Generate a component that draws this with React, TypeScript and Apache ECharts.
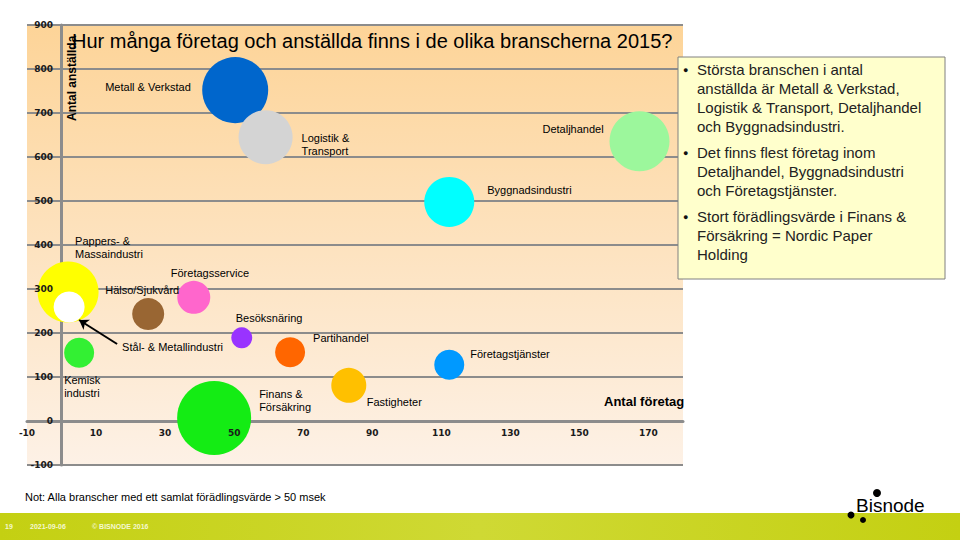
import React, { useEffect, useRef } from "react";
import * as echarts from "echarts";

// Data
const branscher = [
  "Metall & Verkstad",
  "Logistik &\nTransport",
  "Detaljhandel",
  "Byggnadsindustri",
  "Pappers- &\nMassaindustri",
  "Stål- & Metallindustri",
  "Hälso/Sjukvård",
  "Företagsservice",
  "Besöksnäring",
  "Partihandel",
  "Kemisk\nindustri",
  "Finans &\nFörsäkring",
  "Fastigheter",
  "Företagstjänster",
];
const antalForetag = [50.3, 59.1, 167.4, 112.3, 1.9, 2.2, 25.1, 38.3, 52.2, 66.2, 5.1, 44.2, 83.2, 112.3];
const antalAnstallda = [752, 645, 636, 498, 293, 259, 243, 281, 189, 156, 155, 7, 81, 128];
const foradlingsvarde = [10900, 7300, 9000, 6250, 9300, 2400, 2560, 2720, 1100, 2250, 2250, 13700, 3060, 2250];
const arrowFrom = [16.1, 175];
const arrowTo = [5.1, 229.5];

const xTicksMin = -10;
const xTicksMax = 180;
const yTicksMin = -100;
const yTicksMax = 900;

const bullets = [
  "Största branschen i antal\nanställda är Metall & Verkstad,\nLogistik & Transport, Detaljhandel\noch Byggnadsindustri.",
  "Det finns flest företag inom\nDetaljhandel, Byggnadsindustri\noch Företagstjänster.",
  "Stort förädlingsvärde i Finans &\nFörsäkring = Nordic Paper\nHolding",
];

// Styles
const colors = [
  "#0066cc", "#d4d4d4", "#9cf79c", "#00ffff", "#ffff00", "#ffffff", "#996633",
  "#ff66cc", "#9933ff", "#ff6600", "#33f033", "#14ec14", "#ffc000", "#0099ff",
];
const labelOffsets = [
  [-130, -10], [36, -6], [-97, -19], [38, -18], [7, -58], [53, 33], [-43, -31],
  [-23, -31], [-6, -26], [23, -21], [-15, 21], [45, -30], [18, 10], [21, -17],
];
const bulletTops = [60, 143, 207];

export default function App() {
  const ref = useRef<HTMLDivElement>(null);
  useEffect(() => {
    if (!ref.current) return;
    const chart = echarts.init(ref.current, null, { renderer: "svg" });
    const grey = "#8c8c8c";
    const font = '"Liberation Sans", Arial, sans-serif';
    const tickFont = '"DejaVu Sans", sans-serif';
    const graphic: any[] = [
      {
        type: "text",
        x: 66,
        y: 121,
        rotation: Math.PI / 2,
        z: 100,
        style: { text: "Antal anställda", fontSize: 12, fontWeight: "bold", fontFamily: font, fill: "#000", align: "left", verticalAlign: "top" },
      },
      {
        type: "text",
        x: 72,
        y: 31,
        z: 101,
        style: { text: "Hur många företag och anställda finns i de olika branscherna 2015?", fontSize: 20, fontFamily: font, fill: "#000", align: "left", verticalAlign: "top" },
      },
      {
        type: "text",
        x: 604,
        y: 395,
        z: 100,
        style: { text: "Antal företag", fontSize: 13, fontWeight: "bold", fontFamily: font, fill: "#000", align: "left", verticalAlign: "top" },
      },
      {
        type: "rect",
        shape: { x: 678, y: 57, width: 267, height: 222 },
        z: 100,
        style: { fill: "#ffffcc", stroke: "#808080", lineWidth: 1 },
      },
      {
        type: "text",
        x: 25,
        y: 491,
        z: 100,
        style: { text: "Not: Alla branscher med ett samlat förädlingsvärde > 50 msek", fontSize: 11, fontFamily: font, fill: "#000", align: "left", verticalAlign: "top" },
      },
      {
        type: "rect",
        shape: { x: 0, y: 513, width: 960, height: 27 },
        z: 90,
        style: {
          fill: new echarts.graphic.LinearGradient(0, 0, 1, 0, [
            { offset: 0, color: "#c4d012" },
            { offset: 0.5, color: "#cfd934" },
            { offset: 1, color: "#c4d012" },
          ]),
        },
      },
      { type: "text", x: 5, y: 523, z: 100, style: { text: "19", fontSize: 7, fontWeight: "bold", fontFamily: font, fill: "#f4f8d0" } },
      { type: "text", x: 30, y: 523, z: 100, style: { text: "2021-09-06", fontSize: 7, fontWeight: "bold", fontFamily: font, fill: "#f4f8d0" } },
      { type: "text", x: 92, y: 523, z: 100, style: { text: "© BISNODE 2016", fontSize: 7, fontWeight: "bold", fontFamily: font, fill: "#f4f8d0" } },
      { type: "text", x: 856, y: 496, z: 100, style: { text: "Bisnode", fontSize: 19, fontFamily: font, fill: "#000" } },
      { type: "circle", shape: { cx: 877, cy: 493, r: 4 }, z: 100, style: { fill: "#000" } },
      { type: "circle", shape: { cx: 851, cy: 515, r: 3.5 }, z: 100, style: { fill: "#000" } },
      { type: "circle", shape: { cx: 863, cy: 520, r: 3 }, z: 100, style: { fill: "#000" } },
    ];
    bullets.forEach((b, i) => {
      graphic.push({
        type: "text",
        x: 683,
        y: bulletTops[i] + 5,
        z: 101,
        style: { text: "●", fontSize: 9, fontFamily: font, fill: "#111", align: "left", verticalAlign: "top" },
      });
      graphic.push({
        type: "text",
        x: 697,
        y: bulletTops[i],
        z: 101,
        style: { text: b, fontSize: 15, lineHeight: 19, fontFamily: font, fill: "#222", align: "left", verticalAlign: "top" },
      });
    });

    const xBase = { type: "value", min: xTicksMin, max: xTicksMax, interval: 20, splitLine: { show: false } };
    const yBase = { type: "value", min: yTicksMin, max: yTicksMax, interval: 100 };

    const option: any = {
      animation: false,
      backgroundColor: "#ffffff",
      grid: {
        left: 27,
        top: 25,
        width: 656,
        height: 440,
        show: true,
        borderWidth: 0,
        outerBoundsMode: "none",
        containLabel: false,
        backgroundColor: new echarts.graphic.LinearGradient(0, 0, 0, 1, [
          { offset: 0, color: "#fdd498" },
          { offset: 1, color: "#fdf1e6" },
        ]),
      },
      xAxis: [
        {
          ...xBase,
          z: 10,
          axisLine: { show: false, onZero: true },
          axisTick: { show: false },
          axisLabel: { fontSize: 9, fontWeight: "bold", fontFamily: tickFont, color: "#1a1a1a", margin: -37, showMaxLabel: false, hideOverlap: false },
        },
        {
          ...xBase,
          z: 0,
          axisLine: { show: true, onZero: true, lineStyle: { color: grey, width: 3 } },
          axisTick: { show: false },
          minorTick: { show: false },
          axisLabel: { show: false },
        },
      ],
      yAxis: [
        {
          ...yBase,
          z: 10,
          axisLine: { show: false, onZero: true },
          axisTick: { show: false },
          axisLabel: { fontSize: 9, fontWeight: "bold", fontFamily: tickFont, color: "#1a1a1a", margin: -26, hideOverlap: false },
          splitLine: { show: false },
        },
        {
          ...yBase,
          z: 0,
          position: "left",
          axisLine: { show: true, onZero: true, lineStyle: { color: grey, width: 3 } },
          axisTick: { show: true, length: 4, lineStyle: { color: grey, width: 2 } },
          axisLabel: { show: false },
          splitLine: { show: true, lineStyle: { color: grey, width: 2 } },
        },
      ],
      series: [
        {
          type: "scatter",
          xAxisIndex: 0,
          yAxisIndex: 0,
          symbol: "circle",
          symbolSize: (v: number[]) => 2 * Math.sqrt(v[2] / 10),
          emphasis: { disabled: true },
          label: {
            show: true,
            position: "inside",
            align: "left",
            verticalAlign: "top",
            formatter: "{b}",
            fontSize: 11,
            lineHeight: 13,
            fontFamily: font,
            color: "#000",
          },
          data: branscher.map((n, i) => ({
            name: n,
            value: [antalForetag[i], antalAnstallda[i], foradlingsvarde[i]],
            itemStyle: { color: colors[i], opacity: 1 },
            label: { offset: labelOffsets[i] },
          })),
          markLine: {
            silent: true,
            symbol: ["none", "arrow"],
            symbolSize: 9,
            lineStyle: { color: "#000", width: 2, type: "solid" },
            label: { show: false },
            data: [[{ coord: arrowFrom }, { coord: arrowTo }]],
          },
        },
      ],
      graphic,
    };
    chart.setOption(option);
    return () => chart.dispose();
  }, []);
  return <div ref={ref} style={{ position: "absolute", left: 0, top: 0, width: 960, height: 540 }} />;
}
